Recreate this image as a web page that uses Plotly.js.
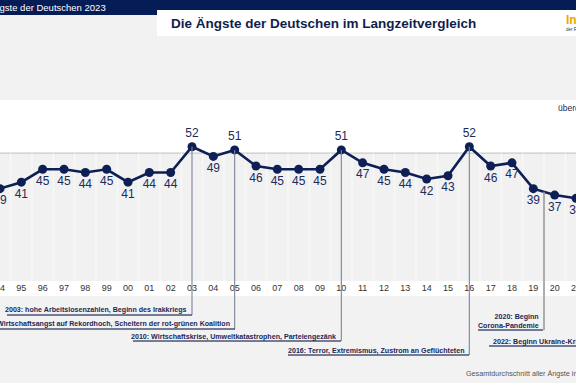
<!DOCTYPE html>
<html>
<head>
<meta charset="utf-8">
<script src="https://cdn.plot.ly/plotly-3.0.1.min.js"></script>
<style>html,body{margin:0;padding:0;background:#f2f2f2;}#chart{width:576px;height:383px;}</style>
</head>
<body>
<div id="chart"></div>
<script>
// ---- data ----
const years = [1994,1995,1996,1997,1998,1999,2000,2001,2002,2003,2004,2005,2006,2007,2008,2009,2010,2011,2012,2013,2014,2015,2016,2017,2018,2019,2020,2021];
const values = [39,41,45,45,44,45,41,44,44,52,49,51,46,45,45,45,51,47,45,44,42,43,52,46,47,39,37,36];
const yearLabels = ['94','95','96','97','98','99','00','01','02','03','04','05','06','07','08','09','10','11','12','13','14','15','16','17','18','19','20','21'];
const eventTexts = [
  '2003: hohe Arbeitslosenzahlen, Beginn des Irakkriegs',
  '2005: Wirtschaftsangst auf Rekordhoch, Scheitern der rot-grünen Koalition',
  '2010: Wirtschaftskrise, Umweltkatastrophen, Parteiengezänk',
  '2016: Terror, Extremismus, Zustrom an Geflüchteten',
  '2020: Beginn<br>Corona-Pandemie',
  '2022: Beginn Ukraine-Krieg'
];
const eventYears = [2003, 2005, 2010, 2016, 2019.5, 2022];

// ---- geometry ----
const W = 576, H = 383, T = 100, B = 102;
const plotBottom = H - B, plotH = H - T - B;
const yLo = 10.36, yHi = 66.48, xLo = 1994, xHi = 2021;
const NAVY = '#0e1f55', TXT = '#1b2856', FONT = 'Liberation Sans, Arial, sans-serif';
const py = p => (plotBottom - p) / plotH;
const pxX = p => p / W;
const yrX = y => (y - xLo) / (xHi - xLo);
const valY = v => (v - yLo) / (yHi - yLo);
function valAt(y){
  const i = Math.floor(y - xLo), f = (y - xLo) - i;
  if (f === 0) return values[i];
  return values[i] * (1 - f) + values[i + 1] * f;
}

const shapes = [];
const annotations = [];
shapes.push({type:'rect', xref:'paper', yref:'y', x0:0, x1:1, y0:yLo, y1:50, fillcolor:'#f1f1f1', line:{width:0}, layer:'below'});
years.forEach(y => shapes.push({type:'line', xref:'x', yref:'y', x0:y+0.5, x1:y+0.5, y0:yLo, y1:50, line:{color:'#fbfbfb', width:1}, layer:'below'}));
shapes.push({type:'line', xref:'paper', yref:'y', x0:0, x1:1, y0:50, y1:50, line:{color:'#c9c9c9', width:1.2}, layer:'below'});
shapes.push({type:'rect', xref:'paper', yref:'paper', x0:0, x1:1, y0:py(296), y1:py(281), fillcolor:'#ffffff', line:{width:0}, layer:'below'});
shapes.push({type:'rect', xref:'paper', yref:'paper', x0:0, x1:1, y0:py(15), y1:py(0), fillcolor:'#061c57', line:{width:0}});
shapes.push({type:'rect', xref:'paper', yref:'paper', x0:pxX(157), x1:1.01, y0:py(36), y1:py(10), fillcolor:'#ffffff', line:{width:0}});

const ev = [
  {bottom:315, ux0:7,   ux1:192, tx:189, ty:310, anchor:'right', align:'right'},
  {bottom:329, ux0:-5,  ux1:235, tx:232, ty:324, anchor:'right', align:'right'},
  {bottom:341, ux0:133, ux1:341, tx:338, ty:336.5, anchor:'right', align:'right'},
  {bottom:355, ux0:288, ux1:469, tx:466, ty:350.5, anchor:'right', align:'right'},
  {bottom:330, ux0:478, ux1:543, tx:541, ty:321, anchor:'right', align:'right'},
  {bottom:346, ux0:489, ux1:640, tx:491, ty:341.5, anchor:'left',  align:'left'}
];
ev.forEach((e, k) => {
  const yr = eventYears[k];
  const xp = yrX(yr);
  if (yr <= xHi) {
    shapes.push({type:'line', xref:'paper', yref:'paper', x0:xp, x1:xp, y0:py(e.bottom), y1:valY(valAt(yr)),
      line:{color: k===4 ? '#9a9a9a' : '#7d849a', width: k===4 ? 1.6 : 1.1}});
  }
  shapes.push({type:'line', xref:'paper', yref:'paper', x0:pxX(e.ux0), x1:pxX(e.ux1), y0:py(e.bottom), y1:py(e.bottom),
    line:{color:'#4a5374', width:1.4}});
  annotations.push({xref:'paper', yref:'paper', x:pxX(e.tx), y:py(e.ty), xanchor:e.anchor, yanchor:'middle', align:e.align,
    text:'<b>'+eventTexts[k]+'</b>', showarrow:false, font:{family:FONT, size:7.1, color:TXT}});
});

annotations.push({xref:'paper', yref:'paper', x:pxX(108), y:py(7.5), xanchor:'right', yanchor:'middle', showarrow:false,
  text:'Die Ängste der Deutschen 2023', font:{family:FONT, size:9.5, color:'#ffffff'}});
annotations.push({xref:'paper', yref:'paper', x:pxX(169), y:py(23.5), xanchor:'left', yanchor:'middle', showarrow:false,
  text:'<b>Die Ängste der Deutschen im Langzeitvergleich</b>', font:{family:FONT, size:13.5, color:'#111e4c'}});
annotations.push({xref:'paper', yref:'paper', x:pxX(564), y:py(20), xanchor:'left', yanchor:'middle', showarrow:false,
  text:'<b>Infocenter</b>', font:{family:FONT, size:12, color:'#f2a400'}});
annotations.push({xref:'paper', yref:'paper', x:pxX(564), y:py(29), xanchor:'left', yanchor:'middle', showarrow:false,
  text:'der R+V Versicherung', font:{family:FONT, size:4.5, color:'#333333'}});
annotations.push({xref:'paper', yref:'paper', x:pxX(556), y:py(108), xanchor:'left', yanchor:'middle', showarrow:false,
  text:'überdurchschnittlich', font:{family:FONT, size:8.5, color:'#1b2856'}});
annotations.push({xref:'paper', yref:'paper', x:pxX(464), y:py(373), xanchor:'left', yanchor:'middle', showarrow:false,
  text:'Gesamtdurchschnitt aller Ängste in Prozent', font:{family:FONT, size:7.2, color:'#555555'}});

const trace = {
  x: years, y: values, type:'scatter', mode:'lines+markers+text',
  text: values.map(String),
  textposition: values.map(v => v >= 50 ? 'top center' : 'bottom center'),
  textfont:{family:FONT, size:12, color:'#1b2b5b'},
  line:{color:NAVY, width:2.6},
  marker:{color:NAVY, size:9},
  cliponaxis:false, hoverinfo:'skip'
};

const layout = {
  width:W, height:H,
  margin:{l:0, r:0, t:T, b:B, pad:0},
  paper_bgcolor:'#f2f2f2', plot_bgcolor:'#ffffff',
  showlegend:false,
  xaxis:{range:[xLo, xHi], tickmode:'array', tickvals:years, ticktext:yearLabels, automargin:false,
    ticklabeloverflow:'allow',
    showgrid:false, zeroline:false, showline:false, ticks:'', ticklen:0,
    tickfont:{family:FONT, size:9, color:'#333333'}, fixedrange:true},
  yaxis:{range:[yLo, yHi], visible:false, fixedrange:true},
  shapes: shapes,
  annotations: annotations,
  font:{family:FONT}
};
Plotly.newPlot('chart', [trace], layout, {displayModeBar:false, staticPlot:true});
</script>
</body>
</html>
